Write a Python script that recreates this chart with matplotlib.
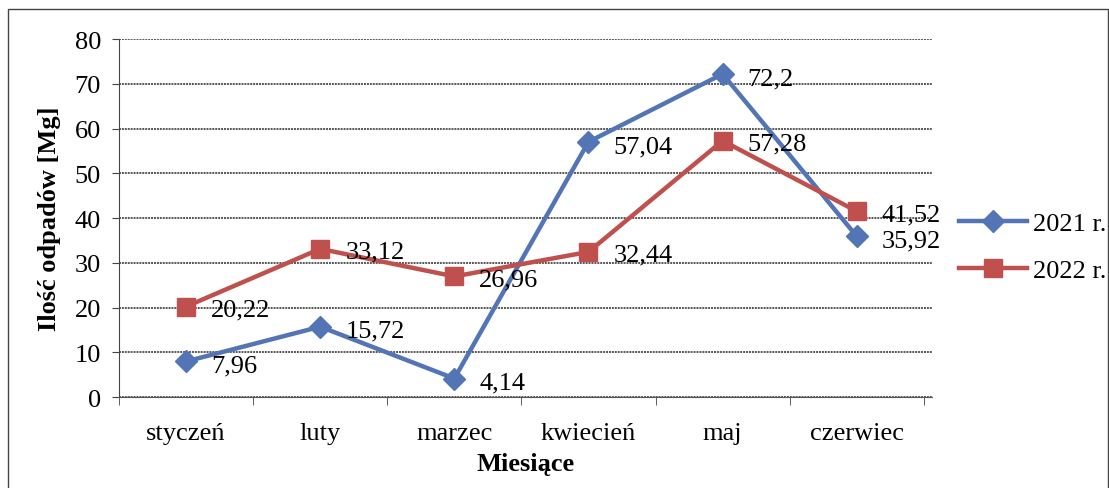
import matplotlib.pyplot as plt
from matplotlib.patches import Rectangle

months = ["styczeń", "luty", "marzec", "kwiecień", "maj", "czerwiec"]
y2021 = [7.96, 15.72, 4.14, 57.04, 72.2, 35.92]
y2022 = [20.22, 33.12, 26.96, 32.44, 57.28, 41.52]
yticks = [0, 10, 20, 30, 40, 50, 60, 70, 80]

plt.rcParams['font.family'] = ['Liberation Serif', 'DejaVu Serif']
fs = 19

fig = plt.figure(figsize=(11.09, 4.89), dpi=100)
ax = fig.add_axes([0.1073, 0.186, 0.733, 0.732])

x = list(range(len(months)))
ax.plot(x, y2021, color='#5475B5', lw=3.2, marker='D', ms=11,
        label='2021 r.', zorder=3)
ax.plot(x, y2022, color='#C0504D', lw=3.2, marker='s', ms=13,
        label='2022 r.', zorder=3)

# data labels to the right of each point
for xi, v in zip(x, y2021):
    ax.annotate(f"{v:g}".replace('.', ','), (xi, v), xytext=(18, -3),
                textcoords='offset points', va='center', fontsize=fs)
for xi, v in zip(x, y2022):
    ax.annotate(f"{v:g}".replace('.', ','), (xi, v), xytext=(18, -2),
                textcoords='offset points', va='center', fontsize=fs)

ax.set_xlim(-0.5, 5.56)
ax.set_ylim(0, 80)
ax.set_yticks(yticks)
ax.set_xticks(x)
ax.set_xticklabels(months)
ax.set_xticks([i - 0.5 for i in range(7)], minor=True)
ax.tick_params(axis='x', which='major', length=0, pad=18, labelsize=fs)
ax.tick_params(axis='x', which='minor', length=6, direction='out', color='#444444')
ax.tick_params(axis='y', length=5, direction='out', labelsize=fs, pad=8,
               color='#444444')
ax.grid(axis='y', color='#555555', lw=1.4, linestyle=(0, (1, 0.5)))
ax.set_axisbelow(True)
for s in ['top', 'right']:
    ax.spines[s].set_visible(False)
ax.spines['left'].set_color('#444444')
ax.spines['bottom'].set_color('#555555')

ax.set_ylabel("Ilość odpadów [Mg]", fontsize=fs, fontweight='bold', labelpad=10)
ax.set_xlabel("Miesiące", fontsize=fs, fontweight='bold', labelpad=6)

ax.legend(loc='center left', bbox_to_anchor=(1.02, 0.42), frameon=False,
          fontsize=fs, handlelength=2.6, handletextpad=0.2, labelspacing=0.9,
          borderaxespad=0)

fig.patches.append(Rectangle((8 / 1109, -0.01), 1100 / 1109, 1 - 10 / 489 + 0.01,
                             transform=fig.transFigure, fill=False,
                             edgecolor='#444444', lw=1))

fig.savefig("out.png", dpi=100)
